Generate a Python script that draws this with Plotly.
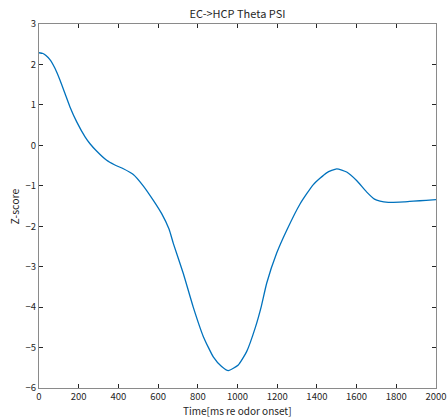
import plotly.graph_objects as go

# Values
time_ms = [0, 20, 35, 55, 81, 106, 131, 156, 190, 232, 257, 290, 341, 380, 425,
           475, 525, 576, 618, 655, 677, 727, 777, 828, 878, 920, 954, 1004,
           1046, 1090, 1120, 1147, 1197, 1248, 1315, 1382, 1449, 1500, 1550,
           1600, 1650, 1690, 1718, 1760, 1785, 1840, 1886, 1950, 2000]
zscore = [2.29, 2.27, 2.22, 2.12, 1.90, 1.61, 1.28, 0.95, 0.58, 0.21, 0.04,
          -0.14, -0.37, -0.48, -0.58, -0.72, -1.00, -1.36, -1.69, -2.07,
          -2.43, -3.17, -4.00, -4.73, -5.23, -5.47, -5.57, -5.43, -5.10,
          -4.50, -3.98, -3.41, -2.67, -2.10, -1.45, -0.97, -0.68, -0.58,
          -0.66, -0.87, -1.15, -1.33, -1.38, -1.41, -1.41, -1.40, -1.38,
          -1.36, -1.34]

x_ticks = list(range(0, 2001, 200))
y_ticks = list(range(-6, 4))

fig = go.Figure()
fig.add_trace(go.Scatter(x=time_ms, y=zscore, mode="lines",
                         line=dict(color="#0072BD", width=1.3, shape="spline", smoothing=0.5)))

axis_style = dict(showgrid=False, zeroline=False, showline=True, linecolor="#8a8a8a",
                  linewidth=1, mirror="ticks", ticks="inside", ticklen=4, automargin=False,
                  tickcolor="#262626", tickfont=dict(size=9.5, color="#262626"))

fig.update_xaxes(range=[0, 2000], tickvals=x_ticks, **axis_style)
fig.update_yaxes(range=[-6, 3], tickvals=y_ticks, **axis_style)

# axis titles as annotations so the plot area stays fixed
fig.add_annotation(text="Time[ms re odor onset]", xref="paper", yref="paper",
                   x=0.5, y=-0.062, yanchor="middle", showarrow=False,
                   font=dict(size=10, color="#262626"))
fig.add_annotation(text="Z-score", xref="paper", yref="paper", textangle=-90,
                   x=-0.062, y=0.5, xanchor="center", showarrow=False,
                   font=dict(size=10.5, color="#262626"))

fig.update_layout(
    width=448, height=417,
    margin=dict(l=39, r=12, t=24, b=29),
    title=dict(text="EC->HCP Theta PSI", x=0.53, xanchor="center", y=0.975,
               font=dict(size=11, color="#262626")),
    font=dict(family="Noto Sans CJK JP, sans-serif"),
    plot_bgcolor="white", paper_bgcolor="white",
    showlegend=False,
)

# remove the default page margin so the figure sits at the window's corner
fig.write_html("out.html", config={"displayModeBar": False},
               post_script="document.body.style.margin='0';document.body.style.overflow='hidden';")
